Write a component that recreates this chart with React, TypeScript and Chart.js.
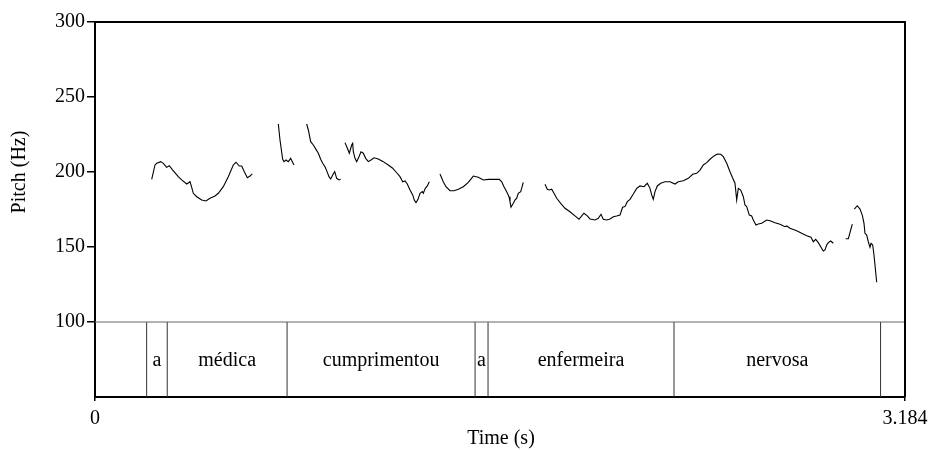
import React, { useEffect, useRef } from "react";
import { Chart, registerables } from "chart.js";

Chart.register(...registerables);

// Pitch contour segments: [time (s), pitch (Hz)]
const seg1: [number, number][] = [
  [0.2229, 195.1], [0.2358, 204.7], [0.2425, 205.8], [0.2583, 206.9], [0.2685, 205.8],
  [0.2818, 203.1], [0.2921, 204.2], [0.3054, 201.3], [0.3274, 196.9], [0.3408, 194.7],
  [0.3605, 192.0], [0.3734, 193.5], [0.3801, 189.8], [0.3864, 185.8], [0.3998, 183.5],
  [0.4194, 181.3], [0.4363, 180.7], [0.452, 182.5], [0.4717, 184.0], [0.4847, 185.8],
  [0.5043, 190.2], [0.524, 196.9], [0.5436, 204.7], [0.5542, 206.5], [0.5672, 204.0],
  [0.5767, 204.0], [0.5869, 200.2], [0.5987, 196.2], [0.6093, 197.3], [0.6183, 198.7],
];
const seg2: [number, number][] = [
  [0.7206, 232.0], [0.7272, 221.3], [0.7378, 208.5], [0.7429, 206.9], [0.7508, 208.0],
  [0.7598, 206.9], [0.7693, 209.1], [0.7756, 206.9], [0.7822, 204.7],
];
const seg3: [number, number][] = [
  [0.8321, 232.0], [0.8386, 228.0], [0.8478, 220.2], [0.8583, 218.0], [0.8687, 215.1],
  [0.8779, 212.5], [0.8871, 208.5], [0.895, 205.8], [0.9041, 203.5], [0.9106, 200.9],
  [0.9198, 196.9], [0.9265, 195.3], [0.9343, 198.0], [0.9422, 200.2], [0.95, 195.8],
  [0.9591, 194.7], [0.9657, 195.1],
];
const seg4: [number, number][] = [
  [0.9827, 219.6], [0.9919, 215.8], [0.9997, 212.5], [1.009, 218.0], [1.013, 219.1],
  [1.0154, 213.5], [1.022, 209.1], [1.0287, 206.9], [1.0377, 210.2], [1.0456, 213.5],
  [1.0547, 212.5], [1.0641, 209.1], [1.0744, 206.9], [1.0849, 208.0], [1.0967, 209.5],
  [1.1136, 208.7], [1.1333, 206.9], [1.1529, 204.7], [1.1702, 202.5], [1.1859, 199.5],
  [1.1989, 196.9], [1.2095, 193.5], [1.2186, 194.0], [1.2276, 192.0], [1.2382, 188.0],
  [1.2488, 184.7], [1.2551, 181.3], [1.2618, 179.5], [1.2697, 181.8], [1.2775, 185.8],
  [1.2866, 186.9], [1.2905, 185.8], [1.2984, 189.1], [1.3063, 190.7], [1.3141, 193.5],
];
const seg5: [number, number][] = [
  [1.3561, 198.7], [1.3691, 193.5], [1.3797, 190.2], [1.3954, 187.5], [1.4112, 187.5],
  [1.4281, 188.5], [1.4478, 190.2], [1.4674, 193.1], [1.4871, 197.3], [1.5068, 196.5],
  [1.5264, 194.7], [1.546, 195.1], [1.5657, 195.1], [1.5893, 195.1], [1.5987, 193.5],
  [1.6077, 190.2], [1.6183, 186.9], [1.6274, 183.5], [1.6313, 180.2], [1.6352, 176.5],
  [1.6443, 179.1], [1.6509, 181.3], [1.6576, 182.5], [1.6639, 185.8], [1.6734, 186.9],
  [1.6836, 193.1],
];
const seg6: [number, number][] = [
  [1.7689, 191.8], [1.7779, 188.5], [1.7858, 188.0], [1.7952, 188.5], [1.8042, 185.8],
  [1.8149, 182.5], [1.8306, 179.1], [1.8475, 175.8], [1.8671, 173.5], [1.8868, 170.7],
  [1.9025, 168.5], [1.9131, 170.7], [1.9222, 172.5], [1.9351, 170.7], [1.9458, 168.7],
  [1.9654, 168.0], [1.9784, 169.1], [1.989, 171.8], [1.998, 168.5], [2.0114, 168.0],
  [2.0244, 168.7], [2.0374, 170.2], [2.0505, 170.7], [2.0637, 171.3], [2.074, 176.5],
  [2.0833, 176.9], [2.0924, 180.2], [2.103, 181.8], [2.116, 185.3], [2.1293, 189.1],
  [2.1423, 190.7], [2.158, 190.2], [2.1711, 192.5], [2.1816, 189.1], [2.1883, 184.7],
  [2.1946, 181.8], [2.2013, 186.9], [2.2103, 190.7], [2.2237, 192.5], [2.2406, 193.5],
  [2.2602, 193.5], [2.2799, 192.0], [2.2929, 193.5], [2.3125, 194.2], [2.3322, 195.8],
  [2.3495, 198.5], [2.3652, 199.1], [2.3782, 201.3], [2.3912, 204.7], [2.4045, 206.2],
  [2.4175, 208.5], [2.4332, 210.7], [2.4462, 212.0], [2.4596, 211.8], [2.4698, 210.2],
  [2.4832, 205.8], [2.4961, 200.2], [2.5052, 196.5], [2.5157, 192.5], [2.5224, 181.3],
  [2.5287, 189.1], [2.5382, 188.0], [2.5484, 183.5], [2.555, 178.0], [2.5617, 176.9],
  [2.572, 171.3], [2.5813, 170.7], [2.5877, 168.0], [2.5983, 164.7], [2.6074, 165.3],
  [2.6207, 165.8], [2.6403, 168.0], [2.6533, 167.5], [2.673, 166.2], [2.6926, 165.1],
  [2.7123, 163.5], [2.7189, 164.0], [2.7319, 162.5], [2.7583, 160.9], [2.7779, 159.1],
  [2.7976, 157.5], [2.8145, 156.5], [2.8235, 153.5], [2.8329, 155.1], [2.8432, 152.9],
  [2.8526, 150.2], [2.8629, 147.3], [2.8695, 148.0], [2.8761, 151.3], [2.8826, 152.9],
  [2.8919, 154.0], [2.9022, 152.5],
];
const seg7: [number, number][] = [
  [2.9508, 155.5], [2.9612, 155.5], [2.9769, 165.3],
];
const seg8: [number, number][] = [
  [2.9847, 175.3], [2.9965, 177.5], [3.0071, 175.3], [3.0161, 171.3], [3.0228, 165.8],
  [3.0267, 159.1], [3.0334, 158.0], [3.0397, 153.5], [3.0464, 149.8], [3.0503, 152.5],
  [3.057, 151.3], [3.0621, 144.7], [3.0727, 126.5],
];
const pitchSegments = [seg1, seg2, seg3, seg4, seg5, seg6, seg7, seg8];

// TextGrid tier
const tierBoundaries: number[] = [0.203, 0.284, 0.755, 1.494, 1.545, 2.276, 3.088];
const tierLabels: string[] = ["", "a", "médica", "cumprimentou", "a", "enfermeira", "nervosa", ""];

const timeMax = 3.184;
const pitchTicks: number[] = [100, 150, 200, 250, 300];
const timeTicks: number[] = [0, 3.184];
const timeTickLabels: string[] = ["0", "3.184"];
const tierBottom = 50;
const tierTop = 100;
const pitchMax = 300;

const FONT = "'Liberation Serif', 'Times New Roman', serif";

export default function App() {
  const ref = useRef<HTMLCanvasElement>(null);
  useEffect(() => {
    document.body.style.margin = "0";
    const canvas = ref.current!;
    const datasets: any[] = [];
    pitchSegments.forEach((seg) => {
      datasets.push({
        data: seg.map(([x, y]) => ({ x, y })),
        borderColor: "#000",
        borderWidth: 1.1,
        pointRadius: 0,
        tension: 0,
        fill: false,
      });
    });
    // tier top line
    datasets.push({
      data: [{ x: 0, y: tierTop }, { x: timeMax, y: tierTop }],
      borderColor: "#666",
      borderWidth: 1,
      pointRadius: 0,
    });
    tierBoundaries.forEach((t) => {
      datasets.push({
        data: [{ x: t, y: tierBottom }, { x: t, y: tierTop }],
        borderColor: "#333",
        borderWidth: 1,
        pointRadius: 0,
      });
    });

    const framePlugin = {
      id: "praatFrame",
      afterDraw(chart: any) {
        const ctx = chart.ctx;
        const { left, right, top, bottom } = chart.chartArea;
        const xs = chart.scales.x;
        const ys = chart.scales.y;
        ctx.save();
        ctx.strokeStyle = "#000";
        ctx.lineWidth = 2;
        ctx.beginPath();
        ctx.moveTo(left, top);
        ctx.lineTo(right, top);
        ctx.lineTo(right, bottom);
        ctx.stroke();
        ctx.fillStyle = "#000";
        ctx.font = `20px ${FONT}`;
        ctx.textAlign = "center";
        ctx.textBaseline = "middle";
        const yMid = ys.getPixelForValue((tierBottom + tierTop) / 2);
        const bounds = [0, ...tierBoundaries, timeMax];
        tierLabels.forEach((lab, i) => {
          if (!lab) return;
          const cx = (xs.getPixelForValue(bounds[i]) + xs.getPixelForValue(bounds[i + 1])) / 2;
          ctx.fillText(lab, cx, yMid + 1);
        });
        // axis titles
        ctx.fillText("Time (s)", (left + right) / 2 + 1, 439);
        ctx.save();
        ctx.translate(20, ys.getPixelForValue((tierTop + pitchMax) / 2));
        ctx.rotate(-Math.PI / 2);
        ctx.fillText("Pitch (Hz)", 0, 0);
        ctx.restore();
        ctx.restore();
      },
    };

    const chart = new Chart(canvas, {
      type: "line",
      data: { datasets },
      plugins: [framePlugin],
      options: {
        animation: false,
        responsive: false,
        maintainAspectRatio: false,
        layout: { padding: { left: 0, top: 22, right: 26, bottom: 0 } },
        plugins: { legend: { display: false }, tooltip: { enabled: false } },
        scales: {
          x: {
            type: "linear",
            min: 0,
            max: timeMax,
            afterBuildTicks: (s: any) => {
              s.ticks = timeTicks.map((v) => ({ value: v }));
            },
            afterFit: (s: any) => {
              s.height = 53;
              s.paddingLeft = 0;
              s.paddingRight = 0;
            },
            ticks: {
              autoSkip: false,
              maxRotation: 0,
              padding: 6,
              color: "#000",
              font: { family: FONT, size: 20 },
              callback: (v: any) => {
                const i = timeTicks.indexOf(Number(v));
                return i >= 0 ? timeTickLabels[i] : "";
              },
            },
            grid: { drawOnChartArea: false, tickLength: 4, color: "#000", lineWidth: 1.5 },
            border: { display: true, color: "#000", width: 2 },
          },
          y: {
            type: "linear",
            min: tierBottom,
            max: pitchMax,
            afterBuildTicks: (s: any) => {
              s.ticks = pitchTicks.map((v) => ({ value: v }));
            },
            afterFit: (s: any) => {
              s.width = 95;
              s.paddingTop = 0;
              s.paddingBottom = 0;
            },
            ticks: {
              padding: 2,
              color: "#000",
              font: { family: FONT, size: 20 },
              callback: (v: any) => String(v),
            },
            grid: { drawOnChartArea: false, tickLength: 8, color: "#000", lineWidth: 1.5 },
            border: { display: true, color: "#000", width: 2 },
          },
        },
      },
    });
    return () => chart.destroy();
  }, []);
  return <canvas ref={ref} width={931} height={450} style={{ display: "block" }} />;
}
